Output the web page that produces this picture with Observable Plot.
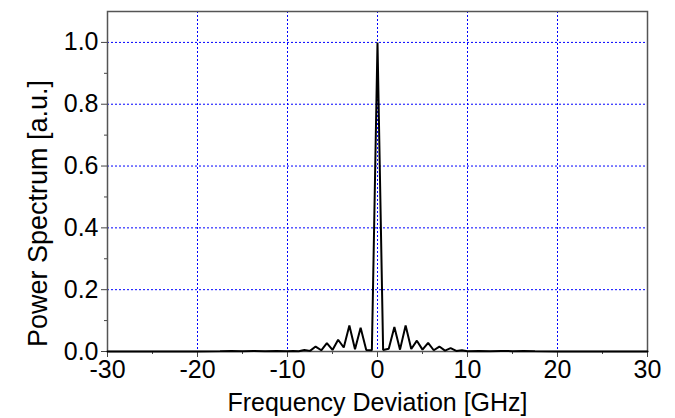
<!DOCTYPE html>
<html>
<head>
<meta charset="utf-8">
<script src="https://cdn.jsdelivr.net/npm/d3@7"></script>
<script src="https://cdn.jsdelivr.net/npm/@observablehq/plot@0.6"></script>
<style>
  html, body { margin: 0; padding: 0; background: #fff; }
  #chart svg { font-family: "Liberation Sans", Arial, sans-serif; }
</style>
</head>
<body>
<div id="chart"></div>
<script>
// Frequency deviation [GHz] and power spectrum [a.u.]
const freq = [-30, -20, -17.5, -16.25, -15, -13.75, -12.5, -11.25, -10, -9.375, -8.75, -8.125, -7.5, -6.875, -6.25, -5.625, -5.0, -4.375, -3.75, -3.125, -2.5, -1.875, -1.25, -0.625, 0, 0.625, 1.25, 1.875, 2.5, 3.125, 3.75, 4.375, 5.0, 5.625, 6.25, 6.875, 7.5, 8.125, 8.75, 9.375, 10, 11.25, 12.5, 13.75, 15, 16.25, 17.5, 20, 30];
const power = [0, 0, 0.001, 0.002, 0.001, 0.002, 0.001, 0.002, 0.001, 0.002, 0.001, 0.005, 0.002, 0.016, 0.004, 0.027, 0.005, 0.038, 0.013, 0.084, 0.007, 0.077, 0.005, 0.004, 1.0, 0.005, 0.009, 0.079, 0.006, 0.084, 0.008, 0.035, 0.006, 0.028, 0.004, 0.016, 0.003, 0.011, 0.002, 0.004, 0.001, 0.002, 0.001, 0.002, 0.001, 0.002, 0.001, 0, 0];

const xMajor = [-30, -20, -10, 0, 10, 20, 30];
const xMinor = [-25, -15, -5, 5, 15, 25];
const yMajor = [0, 0.2, 0.4, 0.6, 0.8, 1.0];
const yMinor = [0.1, 0.3, 0.5, 0.7, 0.9];
const xGrid = [-20, -10, 0, 10, 20];
const yGrid = [0.2, 0.4, 0.6, 0.8, 1.0];
const xTitle = "Frequency Deviation [GHz]";
const yTitle = "Power Spectrum [a.u.]";

const data = freq.map((f, i) => ({f, p: power[i]}));

const chart = Plot.plot({
  width: 675,
  height: 418,
  marginLeft: 107,
  marginRight: 28,
  marginTop: 11,
  marginBottom: 67,
  style: {fontSize: "25px", color: "black", background: "white", fontFamily: "'Liberation Sans', Arial, sans-serif"},
  x: {domain: [-30, 30]},
  y: {domain: [0, 1.1]},
  marks: [
    Plot.ruleX(xGrid, {x: d => d, stroke: "#0000ff", strokeDasharray: "2,2", strokeWidth: 1}),
    Plot.ruleY(yGrid, {y: d => d, stroke: "#0000ff", strokeDasharray: "2,2", strokeWidth: 1}),
    Plot.axisX(xMajor, {tickSize: 6, tickPadding: 3, stroke: "#444", fill: "black", tickFormat: d => String(d), label: xTitle, labelAnchor: "center", labelArrow: "none", labelOffset: 59, fontSize: 25}),
    Plot.axisX(xMinor, {tickSize: 3, stroke: "#444", text: null, label: null}),
    Plot.axisY(yMajor, {tickSize: 6, tickPadding: 3, stroke: "#444", fill: "black", tickFormat: d3.format(".1f"), label: null, fontSize: 25}),
    Plot.axisY(yMinor, {tickSize: 3, stroke: "#444", text: null, label: null}),
    Plot.text([yTitle], {text: d => d, frameAnchor: "left", textAnchor: "middle", lineAnchor: "middle", rotate: -90, dx: -69, dy: 32, fontSize: 27, fill: "black"}),
    Plot.frame({stroke: "#555", strokeWidth: 1.5}),
    Plot.line(data, {x: "f", y: "p", stroke: "black", strokeWidth: 2, strokeLinejoin: "miter"})
  ]
});
document.getElementById("chart").append(chart);
</script>
</body>
</html>
